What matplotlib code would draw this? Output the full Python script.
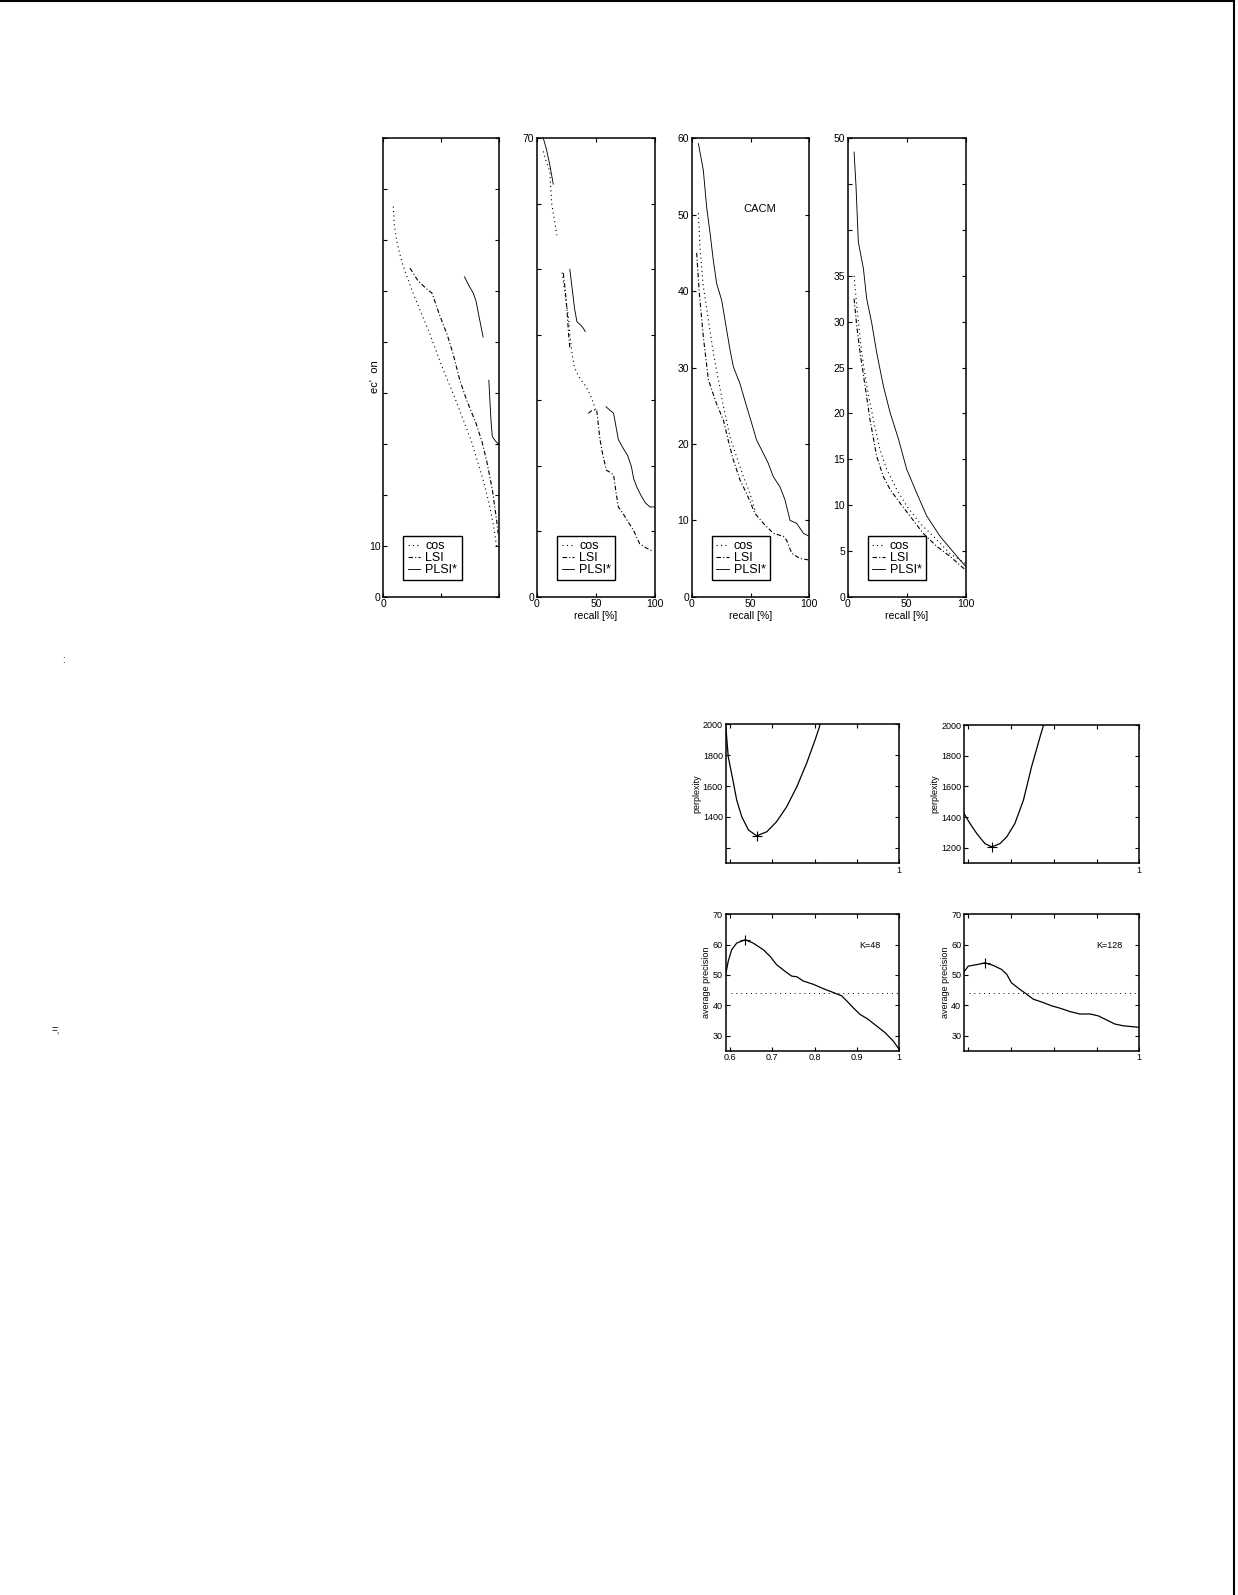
import numpy as np
import matplotlib
matplotlib.use('Agg')
import matplotlib.pyplot as plt
from matplotlib.lines import Line2D

'''
Precision/recall curves (top row) and perplexity / average precision vs beta (bottom block).
Values read off a scanned page; gaps (nan) follow the broken strokes of the scan.
'''
nan = np.nan

# --- panel 1 (MED, scan lost most labels) ---
p1_cos_x = [8.6, 9.5, 11.5, 14, 17, 25, 33, 40, 50, 60, 69, 76, 80, 86, 91, 95, 97.7]
p1_cos_y = [76.6, 73, 70, 67.5, 65, 60, 55.5, 51.7, 45.5, 40, 34.7, 30.5, 27.5, 23, 18.5, 14, 9.8]
p1_lsi_x = [23, 30, 37, 42, 49, 55, 60, 66, 72, 80, 85, 89, 94, 97.7, 99]
p1_lsi_y = [64.5, 62, 60.5, 59.6, 55, 51.5, 47.8, 42.5, 38.5, 34, 30.5, 26.8, 21, 15, 12.4]
p1_plsi_x = [70, 74, 77.6, 80, 82, 86, nan, 91, 92, 93, 94, 97, 100]
p1_plsi_y = [62.8, 61, 59.6, 58, 55.6, 51, nan, 42.5, 38, 34, 31.4, 30.5, 29.8]

# --- panel 2 ---
p2_cos_x = [5.6, 8, 11, 12.7, 15, 17, nan, 21.5, 23, 25, 27, 28, 30, 32, 36, 42, 46, 50]
p2_cos_y = [68, 66.5, 65, 60, 57.5, 55.2, nan, 49.5, 47.5, 45, 42.5, 40, 37, 34.9, 33.5, 32, 30.5, 28.5]
p2_lsi_x = [22.5, 24, 25.5, 27, 28, nan, 43.7, 47, 50.7, 53.5, 56, 59, 62, 65, 67, 69, 73, 77, 81.7, 87, 92, 98.6]
p2_lsi_y = [49.4, 47, 44, 40, 38, nan, 28, 28.5, 28.5, 24, 21.5, 19.3, 19, 18.6, 16, 13.7, 12.7, 11.5, 10.2, 8.1, 7.5, 6.9]
p2_plsi_x = [5.6, 8, 11, 12.5, 14, nan, 28, 30, 32, 34, 37, 39.4, 41, nan,
             58.6, 65, 67, 69, 73, 77, 80, 82, 84.5, 88, 92, 95.8, 100]
p2_plsi_y = [70, 68.5, 66, 64.5, 63, nan, 50, 47, 44, 42, 41.5, 41, 40.5, nan,
             29, 28, 26, 24, 22.7, 21.5, 19.9, 18, 16.8, 15.5, 14.3, 13.7, 13.7]

# --- panel 3 (CACM) ---
p3_plsi_x = [5.7, 9.9, 12.7, 15.6, 18.4, 21.2, 25.5, 28.3, 32.6, 35.4, 41, 46.7, 51, 55.2, 59.5,
             65, 69.4, 75, 79.3, 83.6, 89.2, 95, 100]
p3_plsi_y = [59.3, 55.8, 51, 47.6, 44, 41, 38.8, 36.2, 32.3, 30.1, 27.9, 24.9, 22.7, 20.5, 19.2,
             17.5, 15.7, 14.4, 12.7, 10, 9.6, 8.3, 7.9]
p3_cos_x = [5.7, 7, 9.9, 14.2, 18.4, 22.7, 27, 32.6, 38.2, 44, 49.6, 53.8]
p3_cos_y = [50.2, 45.8, 40.6, 36.2, 31.9, 28.4, 24.9, 20.9, 18.3, 15.7, 13.5, 11.3]
p3_lsi_x = [4.2, 6.5, 9.9, 14.2, 21, 27, 31, 35.4, 41, 46.7, 53.8, 61, 69.4, 78, 80.7, 85, 92, 100]
p3_lsi_y = [45, 39.7, 34, 28.4, 25.3, 23.1, 20.5, 17.9, 15.3, 13.5, 10.9, 9.6, 8.3, 7.9, 7.4, 5.7, 5, 4.8]

# --- panel 4 (CISI) ---
p4_plsi_x = [5.4, 7, 9, 13.3, 16.1, 20.3, 24.6, 30.2, 35.9, 43, 50, 58.5, 67, 78.2, 88, 95.2, 100]
p4_plsi_y = [48.5, 44.9, 38.7, 35.8, 32.5, 29.9, 26.6, 23, 20.1, 17.2, 13.9, 11.3, 8.8, 6.6, 5.1, 4, 3.3]
p4_lsi_x = [5.4, 7.6, 10.5, 14.7, 18.9, 24.6, 30.2, 35.9, 44.4, 52.8, 64, 75.4, 86.7, 100]
p4_lsi_y = [32.5, 29.6, 26.6, 23, 19.3, 15.3, 13.1, 11.7, 10.2, 8.8, 6.9, 5.5, 4.4, 2.9]
p4_cos_x = [5.4, 7.6, 11.9, 16.1, 21.8, 27.4, 33, 41.5, 50, 61.3, 72.6, 86.7, 100]
p4_cos_y = [35, 31.8, 26.6, 23, 19.3, 16, 13.9, 11.7, 9.9, 8, 6.6, 4.7, 3.6]

# --- bottom block: perplexity and average precision vs beta ---
perp48_b = [0.59, 0.596, 0.607, 0.616, 0.628, 0.644, 0.663, 0.687, 0.71, 0.734, 0.758, 0.781, 0.801, 0.811, 0.815]
perp48 = [1996, 1790, 1639, 1509, 1401, 1315, 1278, 1304, 1369, 1466, 1596, 1747, 1898, 1980, 2030]
perp128_b = [0.59, 0.604, 0.62, 0.639, 0.655, 0.674, 0.69, 0.709, 0.729, 0.748, 0.768, 0.775, 0.779]
perp128 = [1424, 1359, 1293, 1228, 1207, 1228, 1272, 1359, 1511, 1728, 1924, 1989, 2030]

prec48_b = [0.59, 0.596, 0.604, 0.616, 0.636, 0.655, 0.679, 0.695, 0.71, 0.73, 0.746, 0.758, 0.773,
            0.797, 0.82, 0.844, 0.864, 0.876, 0.891, 0.907, 0.926, 0.946, 0.966, 0.985, 1.0]
prec48 = [50.2, 54.5, 58.3, 60.5, 61.6, 60.5, 58.3, 56.1, 53.4, 51.2, 49.6, 49.4, 48,
          46.9, 45.5, 44.2, 43.1, 41.4, 39.2, 37, 35.4, 33.2, 31, 28.3, 25.4]
prec128_b = [0.59, 0.6, 0.612, 0.627, 0.639, 0.659, 0.678, 0.69, 0.701, 0.721, 0.737, 0.752, 0.775,
             0.795, 0.815, 0.838, 0.861, 0.885, 0.904, 0.924, 0.943, 0.963, 0.986, 1.0]
prec128 = [51, 52.9, 53.2, 53.6, 54, 53.1, 51.8, 50.2, 47.4, 45.2, 43.6, 42, 40.9,
           39.8, 39, 37.9, 37.1, 37.1, 36.5, 35.1, 33.8, 33.2, 32.9, 32.7]
cos_baseline = 44.2

W, H = 1238, 1595
fig = plt.figure(figsize=(W / 100, H / 100), dpi=100)
plt.rcParams['font.family'] = ['Liberation Sans', 'DejaVu Sans']


def box(x0, x1, y0, y1):
    # pixel box -> figure fractions
    return [x0 / W, 1 - y1 / H, (x1 - x0) / W, (y1 - y0) / H]


def style(ax):
    ax.tick_params(direction='in', top=True, right=True, length=3, width=0.8,
                   labelsize=7.5, pad=2)
    for s in ax.spines.values():
        s.set_linewidth(1.1)


cos_ls = (0, (1, 3))
lsi_ls = (0, (4, 2, 1, 2))
lw = 0.8

pr_panels = [
    (box(383.3, 499.3, 138.3, 596.7), 90, p1_cos_x, p1_cos_y, p1_lsi_x, p1_lsi_y, p1_plsi_x, p1_plsi_y),
    (box(536.7, 655.0, 138.3, 596.7), 70, p2_cos_x, p2_cos_y, p2_lsi_x, p2_lsi_y, p2_plsi_x, p2_plsi_y),
    (box(691.7, 809.3, 138.3, 596.7), 60, p3_cos_x, p3_cos_y, p3_lsi_x, p3_lsi_y, p3_plsi_x, p3_plsi_y),
    (box(847.7, 965.7, 138.3, 596.7), 50, p4_cos_x, p4_cos_y, p4_lsi_x, p4_lsi_y, p4_plsi_x, p4_plsi_y),
]

axes = []
for i, (pos, ytop, cx, cy, lx, ly, px, py) in enumerate(pr_panels):
    ax = fig.add_axes(pos)
    ax.plot(cx, cy, color='k', lw=lw, ls=cos_ls, label='cos')
    ax.plot(lx, ly, color='k', lw=lw, ls=lsi_ls, label='LSI')
    ax.plot(px, py, color='k', lw=lw * 0.8, ls='-', label='PLSI*')
    ax.set_xlim(0, 100)
    ax.set_ylim(0, ytop)
    ax.set_xticks([0, 50, 100])
    style(ax)
    leg = ax.legend(loc='lower left', bbox_to_anchor=(0.12, 0.022), fontsize=9,
                    handlelength=1.0, handletextpad=0.4, labelspacing=0.0,
                    borderpad=0.35, fancybox=False, framealpha=1)
    leg.get_frame().set_edgecolor('k')
    leg.get_frame().set_linewidth(1.0)
    axes.append(ax)

a1, a2, a3, a4 = axes
a1.set_yticks(np.arange(0, 91, 10))
a1.set_yticklabels(['0', '10'] + [''] * 8)
a1.set_xticklabels(['0', '', ''])
a2.set_yticks(np.arange(0, 71, 10))
a2.set_yticklabels(['0'] + [''] * 6 + ['70'])
a3.set_yticks(np.arange(0, 61, 10))
a4.set_yticks(np.arange(0, 51, 5))
a4.set_yticklabels([str(v) for v in range(0, 36, 5)] + ['', '', '50'])
for ax in (a2, a3, a4):
    ax.set_xlabel('recall [%]', fontsize=7.5, labelpad=1)
a3.text(58, 50.8, 'CACM', fontsize=8, ha='center', va='center')
fig.text(375 / W, 1 - 377 / H, "ec'  on", rotation=90, fontsize=8, ha='center', va='center')

# bottom block
bottom = [
    (box(725.7, 899.3, 724.3, 863.3), perp48_b, perp48, 'perplexity', None),
    (box(964.0, 1139.3, 725.0, 863.3), perp128_b, perp128, 'perplexity', None),
    (box(725.7, 899.3, 914.3, 1050.7), prec48_b, prec48, 'average precision', 'K=48'),
    (box(964.0, 1139.3, 914.3, 1050.7), prec128_b, prec128, 'average precision', 'K=128'),
]
for j, (pos, bx, by, ylab, tag) in enumerate(bottom):
    ax = fig.add_axes(pos)
    ax.plot(bx, by, color='k', lw=0.9)
    k = int(np.argmin(by)) if ylab == 'perplexity' else int(np.argmax(by))
    ax.plot(bx[k], by[k], marker='+', color='k', ms=7, mew=0.8)
    ax.set_xlim(0.59, 1.0)
    ax.set_xticks([0.6, 0.7, 0.8, 0.9, 1.0])
    style(ax)
    ax.tick_params(labelsize=6.5)
    ax.set_ylabel(ylab, fontsize=6.5, labelpad=1)
    if ylab == 'perplexity':
        ax.set_ylim(1100, 2000)
        ax.set_yticks([1200, 1400, 1600, 1800, 2000])
        if j == 0:
            ax.set_yticklabels(['', '1400', '1600', '1800', '2000'])
        ax.set_xticklabels(['', '', '', '', '1'])
    else:
        ax.set_ylim(25, 70)
        ax.set_yticks([30, 40, 50, 60, 70])
        ax.axhline(cos_baseline, xmin=0.03, color='k', lw=0.7, ls=(0, (1, 4)))
        ax.text(0.93, 59.6, tag, fontsize=6.5, ha='center', va='center')
        if j == 2:
            ax.set_xticklabels(['0.6', '0.7', '0.8', '0.9', '1'])
        else:
            ax.set_xticklabels(['', '', '', '', '1'])

# scan artefacts and page frame
fig.text(63 / W, 1 - 660 / H, ':', fontsize=7, ha='center', va='center')
fig.text(56 / W, 1 - 1030 / H, '=;', fontsize=7, ha='center', va='center')
fig.add_artist(Line2D([0, 1234 / W], [1 - 1 / H, 1 - 1 / H], color='k', lw=1.5))
fig.add_artist(Line2D([1234 / W, 1234 / W], [0, 1], color='k', lw=1.5))

fig.savefig('out.png', dpi=100, facecolor='white')
